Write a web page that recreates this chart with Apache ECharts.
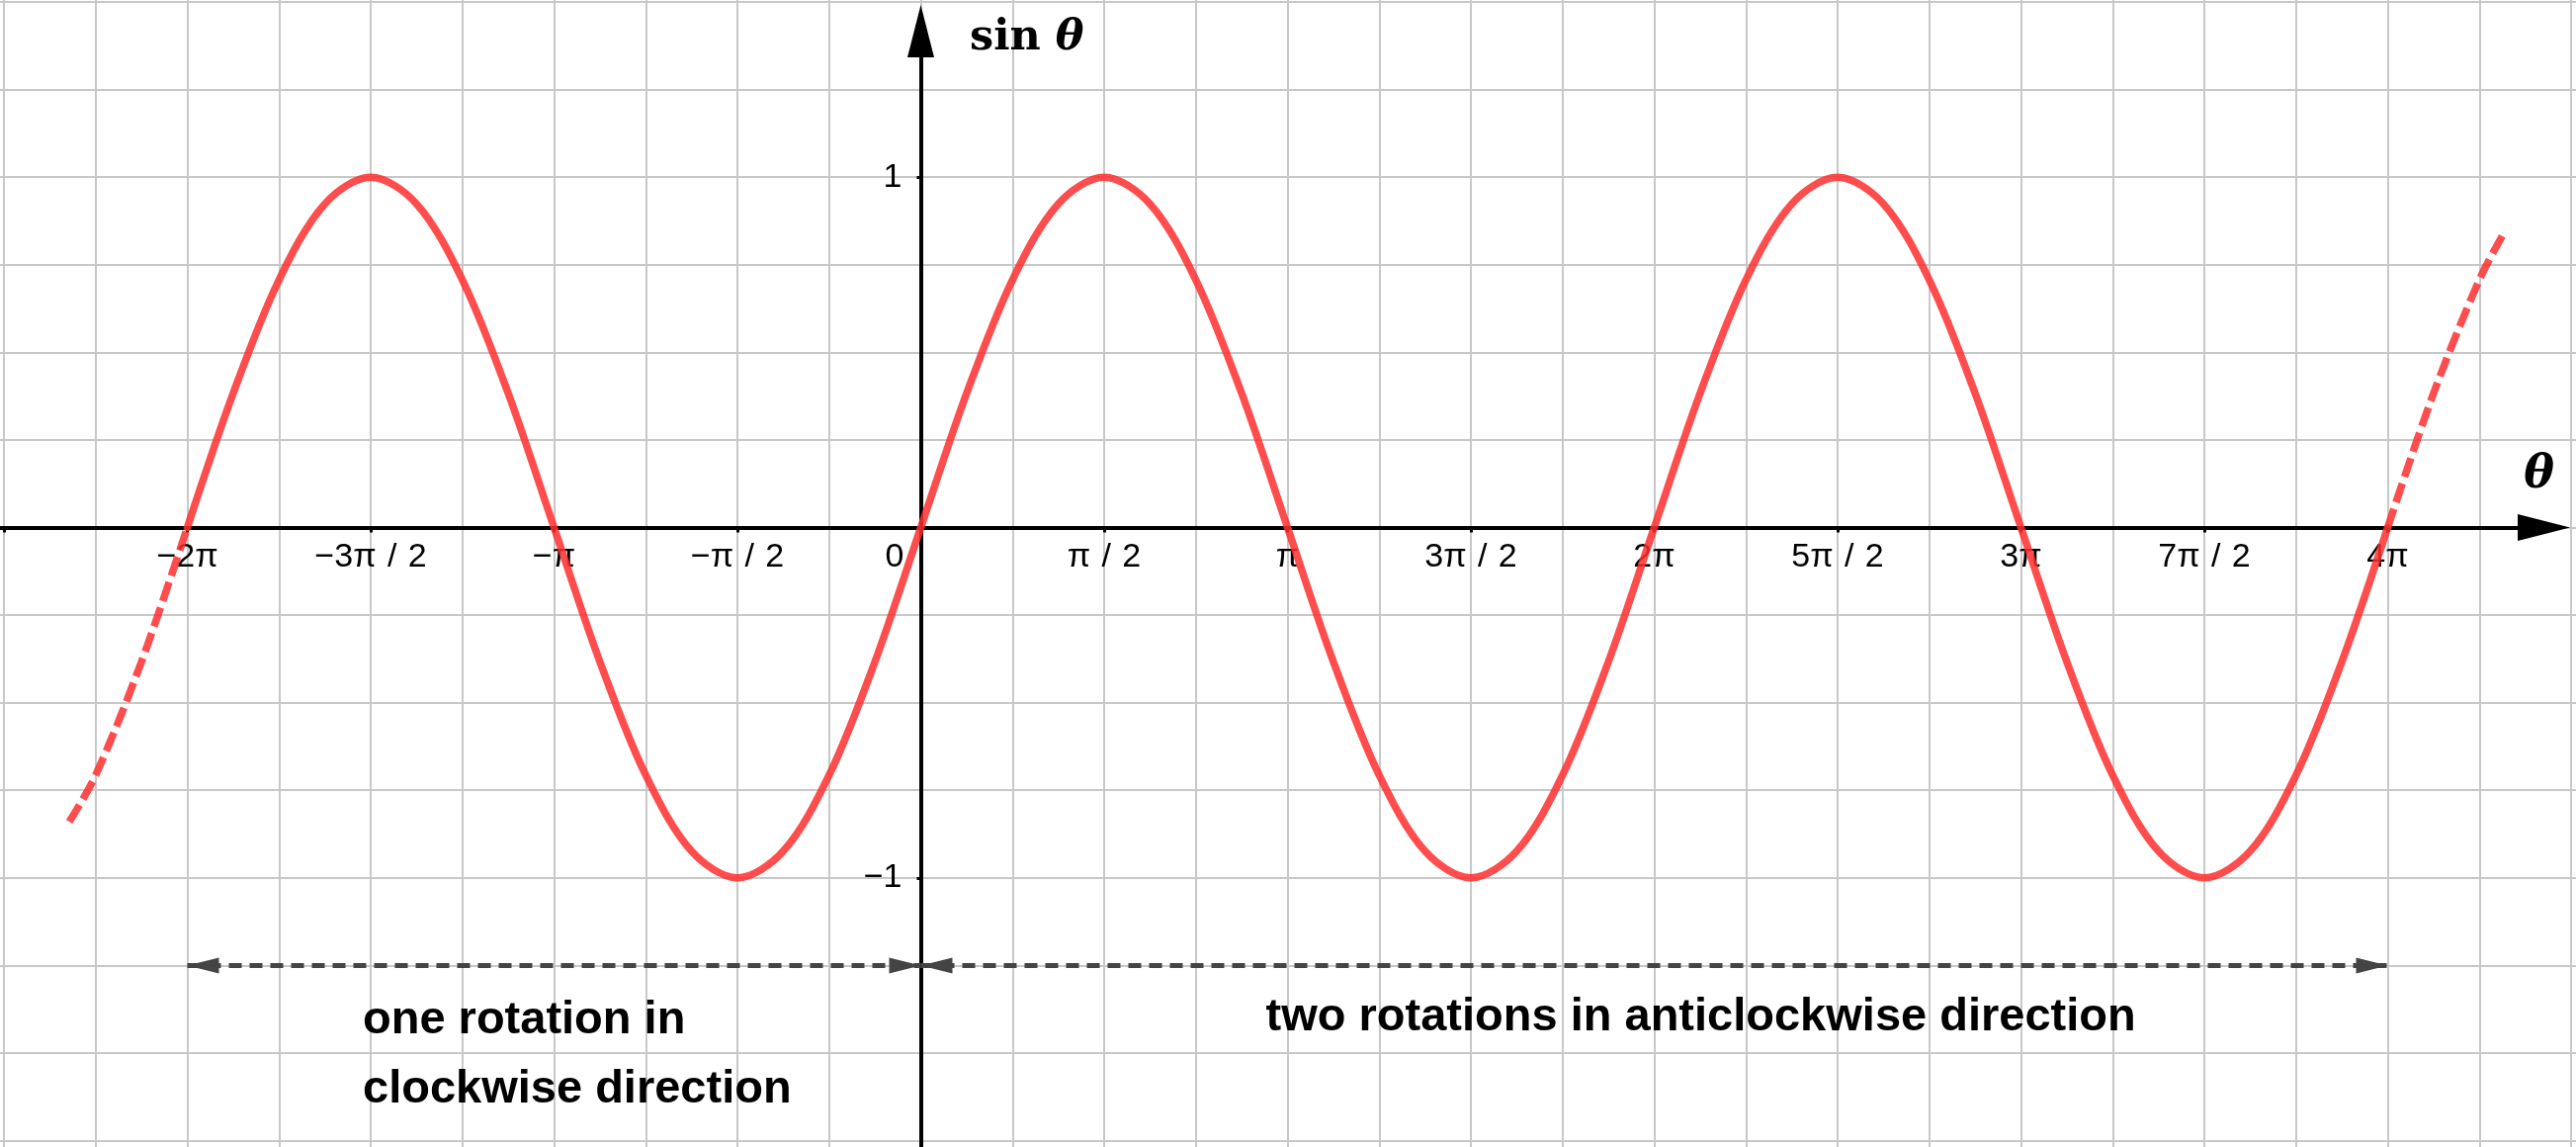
<!DOCTYPE html>
<html>
<head>
<meta charset="utf-8">
<script src="https://cdn.jsdelivr.net/npm/echarts@6/dist/echarts.min.js"></script>
<style>
  html, body { margin: 0; padding: 0; background: #ffffff; }
  #chart { width: 2606px; height: 1160px; }
</style>
</head>
<body>
<div id="chart"></div>
<script>
// ---------------- DATA (θ in units of π) ----------------
const solidTheta = [-2, -1.875, -1.75, -1.625, -1.5, -1.375, -1.25, -1.125,
  -1, -0.875, -0.75, -0.625, -0.5, -0.375, -0.25, -0.125,
  0, 0.125, 0.25, 0.375, 0.5, 0.625, 0.75, 0.875,
  1, 1.125, 1.25, 1.375, 1.5, 1.625, 1.75, 1.875,
  2, 2.125, 2.25, 2.375, 2.5, 2.625, 2.75, 2.875,
  3, 3.125, 3.25, 3.375, 3.5, 3.625, 3.75, 3.875, 4];
const solidSin = [0, 0.383, 0.707, 0.924, 1, 0.924, 0.707, 0.383,
  0, -0.383, -0.707, -0.924, -1, -0.924, -0.707, -0.383,
  0, 0.383, 0.707, 0.924, 1, 0.924, 0.707, 0.383,
  0, -0.383, -0.707, -0.924, -1, -0.924, -0.707, -0.383,
  0, 0.383, 0.707, 0.924, 1, 0.924, 0.707, 0.383,
  0, -0.383, -0.707, -0.924, -1, -0.924, -0.707, -0.383, 0];
const leftDashTheta = [-2.322, -2.25, -2.125, -2];
const leftDashSin = [-0.84, -0.707, -0.383, 0];
const rightDashTheta = [4, 4.125, 4.25, 4.315];
const rightDashSin = [0, 0.383, 0.707, 0.837];

const xTickValues = [-2.5, -2, -1.5, -1, -0.5, 0, 0.5, 1, 1.5, 2, 2.5, 3, 3.5, 4];
const xLabelValues = [-2, -1.5, -1, -0.5, 0, 0.5, 1, 1.5, 2, 2.5, 3, 3.5, 4];
const xLabelTexts = ['\u22122\u03c0', '\u22123\u03c0\u2004/\u20042', '\u2212\u03c0', '\u2212\u03c0\u2004/\u20042', '0',
  '\u03c0\u2004/\u20042', '\u03c0', '3\u03c0\u2004/\u20042', '2\u03c0', '5\u03c0\u2004/\u20042', '3\u03c0',
  '7\u03c0\u2004/\u20042', '4\u03c0'];
const yLabelValues = [-1, 1];
const yLabelTexts = ['\u22121', '1'];

const arrowLevel = -1.25;
const arrowSpans = [[-2, 0], [0, 4]];

const noteLeft = 'one rotation in\nclockwise direction';
const noteRight = 'two rotations in anticlockwise direction';
const yName = 'sin';
const varName = '\u03b8';

// ---------------- LAYOUT ----------------
const W = 2606, H = 1160;
const OX = 931.5, OY = 533.5;            // pixel of origin
const PX_PER_PI = 371, PX_PER_UNIT = 354.3;
const GRID_STEP = 0.25;
const gXMin = -2.75, gXMax = 4.75, gYMin = -2, gYMax = 1.75;
const gridA = {
  left: OX + gXMin * PX_PER_PI,
  right: W - (OX + gXMax * PX_PER_PI),
  top: OY - gYMax * PX_PER_UNIT,
  bottom: H - (OY - gYMin * PX_PER_UNIT)
};
const ARROW_LEN = 53, ARROW_W = 27;
const gridB = { left: 0, right: W - (2600 - ARROW_LEN / 2), top: 5 + ARROW_LEN / 2, bottom: 0 };
const bXMin = (gridB.left - OX) / PX_PER_PI;
const bXMax = (W - gridB.right - OX) / PX_PER_PI;
const bYMax = (OY - gridB.top) / PX_PER_UNIT;
const bYMin = (OY - (H - gridB.bottom)) / PX_PER_UNIT;

const zip = (a, b) => a.map((v, i) => [v, b[i]]);
const curveColor = 'rgba(255,46,46,0.85)';
const labelFont = '"Liberation Sans", Arial, sans-serif';
const noteFont = 'bold 47px "Liberation Sans", Arial, sans-serif';

const xLabelData = xLabelValues.map((v, i) => {
  const item = { value: [v, 0], label: { formatter: xLabelTexts[i] } };
  if (v === 0) item.label.offset = [-26.5, 0];
  return item;
});
const yLabelData = yLabelValues.map((v, i) => ({ value: [0, v], label: { formatter: yLabelTexts[i] } }));
const tickLabelStyle = { show: true, color: '#000000', opacity: 1, fontFamily: labelFont, fontSize: 34,
  fontWeight: 'normal', textBorderWidth: 0, textShadowBlur: 0 };

const chart = echarts.init(document.getElementById('chart'), null, { renderer: 'canvas' });
chart.setOption({
  animation: false,
  backgroundColor: '#ffffff',
  grid: [
    Object.assign({ containLabel: false, outerBoundsMode: 'none' }, gridA),
    Object.assign({ containLabel: false, outerBoundsMode: 'none' }, gridB)
  ],
  xAxis: [
    { type: 'value', gridIndex: 0, min: gXMin, max: gXMax, interval: GRID_STEP, z: 0,
      axisLine: { show: false }, axisTick: { show: false }, axisLabel: { show: false },
      splitLine: { show: true, lineStyle: { color: '#c8c8c8', width: 2 } } },
    { type: 'value', gridIndex: 1, min: bXMin, max: bXMax, z: 1,
      axisLine: { show: true, onZero: true, symbol: ['none', 'triangle'], symbolSize: [ARROW_W, ARROW_LEN],
        lineStyle: { color: '#000', width: 4 } },
      axisTick: { show: true, customValues: xTickValues, length: 5, lineStyle: { color: '#000', width: 3 } },
      axisLabel: { show: false },
      splitLine: { show: false } }
  ],
  yAxis: [
    { type: 'value', gridIndex: 0, min: gYMin, max: gYMax, interval: GRID_STEP, z: 0,
      axisLine: { show: false }, axisTick: { show: false }, axisLabel: { show: false },
      splitLine: { show: true, lineStyle: { color: '#c8c8c8', width: 2 } } },
    { type: 'value', gridIndex: 1, min: bYMin, max: bYMax, z: 1,
      axisLine: { show: true, onZero: true, symbol: ['none', 'triangle'], symbolSize: [ARROW_W, ARROW_LEN],
        lineStyle: { color: '#000', width: 4 } },
      axisTick: { show: true, customValues: yLabelValues, length: 4, lineStyle: { color: '#000', width: 3 } },
      axisLabel: { show: false },
      splitLine: { show: false } }
  ],
  series: [
    // tick labels of θ axis
    { type: 'scatter', xAxisIndex: 1, yAxisIndex: 1, data: xLabelData, symbolSize: 0, silent: true, z: 2,
      itemStyle: { opacity: 1 },
      label: Object.assign({ position: 'bottom', distance: 13 }, tickLabelStyle) },
    // tick labels of sin θ axis
    { type: 'scatter', xAxisIndex: 1, yAxisIndex: 1, data: yLabelData, symbolSize: 0, silent: true, z: 2,
      itemStyle: { opacity: 1 },
      label: Object.assign({ position: 'left', distance: 19 }, tickLabelStyle) },
    { type: 'line', xAxisIndex: 1, yAxisIndex: 1, data: zip(solidTheta, solidSin),
      symbol: 'none', smooth: 0.33, silent: true, z: 3,
      lineStyle: { color: curveColor, width: 7.5, cap: 'round' } },
    { type: 'line', xAxisIndex: 1, yAxisIndex: 1, data: zip(leftDashTheta, leftDashSin),
      symbol: 'none', smooth: 0.33, silent: true, z: 3,
      lineStyle: { color: curveColor, width: 7.5, type: [20, 7] } },
    { type: 'line', xAxisIndex: 1, yAxisIndex: 1, data: zip(rightDashTheta, rightDashSin),
      symbol: 'none', smooth: 0.33, silent: true, z: 3,
      lineStyle: { color: curveColor, width: 7.5, type: [20, 7] } },
    { type: 'line', xAxisIndex: 1, yAxisIndex: 1, data: [], silent: true, z: 3,
      markLine: {
        silent: true, animation: false,
        symbol: ['triangle', 'triangle'], symbolSize: [16, 32], symbolOffset: [[0, 16], [0, 16]],
        label: { show: false },
        lineStyle: { color: '#444444', width: 5, type: [13, 8], opacity: 1 },
        emphasis: { disabled: true },
        data: arrowSpans.map(s => [{ coord: [s[0], arrowLevel] }, { coord: [s[1], arrowLevel] }])
      } }
  ],
  graphic: [
    { type: 'text', x: 981, y: 38.8, z: 10, silent: true,
      style: { text: '{a|' + yName + '}{b| ' + varName + '}', fill: '#000',
        verticalAlign: 'middle', textVerticalAlign: 'middle',
        rich: { a: { font: 'bold 43px "DejaVu Serif", serif', fill: '#000' },
                b: { font: 'italic bold 43px "DejaVu Serif", serif', fill: '#000' } } } },
    { type: 'text', x: 2568.5, y: 481, z: 10, silent: true,
      style: { text: varName, font: 'italic bold 46px "DejaVu Serif", serif', fill: '#000',
        align: 'center', textAlign: 'center', verticalAlign: 'middle', textVerticalAlign: 'middle' } },
    { type: 'text', x: 367, y: 997, z: 10, silent: true,
      style: { text: noteLeft, font: noteFont, fill: '#000',
        lineHeight: 70, align: 'left', textAlign: 'left', verticalAlign: 'top', textVerticalAlign: 'top' } },
    { type: 'text', x: 1280.6, y: 1029, z: 10, silent: true,
      style: { text: noteRight, font: noteFont, fill: '#000',
        align: 'left', textAlign: 'left', verticalAlign: 'middle', textVerticalAlign: 'middle' } }
  ]
});
</script>
</body>
</html>
